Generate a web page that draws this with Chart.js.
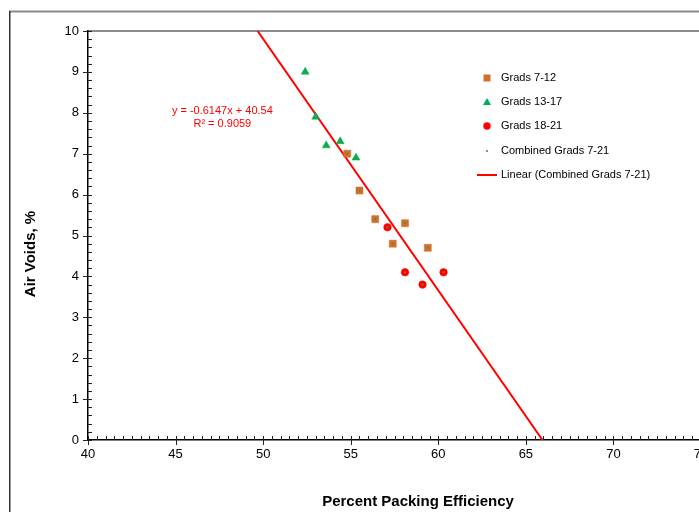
<!DOCTYPE html>
<html>
<head>
<meta charset="utf-8">
<script src="https://cdn.jsdelivr.net/npm/chart.js@4/dist/chart.umd.min.js"></script>
<style>
  html, body { margin: 0; padding: 0; background: #fff; overflow: hidden; }
  #wrap { width: 699px; height: 512px; overflow: hidden; position: relative; }
  canvas { display: block; }
</style>
</head>
<body>
<div id="wrap"><canvas id="c" width="760" height="560"></canvas></div>
<script>
// Packing efficiency (%) vs. air voids (%) by gradation group
const grads7to12X  = [54.8, 55.5, 56.4, 58.1, 57.4, 59.4];
const grads7to12Y  = [7.0, 6.1, 5.4, 5.3, 4.8, 4.7];
const grads13to17X = [52.4, 53.0, 53.6, 54.4, 55.3];
const grads13to17Y = [9.0, 7.9, 7.2, 7.3, 6.9];
const grads18to21X = [57.1, 58.1, 59.1, 60.3];
const grads18to21Y = [5.2, 4.1, 3.8, 4.1];

// Linear fit of the combined data set
const trendSlope = -0.6147;
const trendIntercept = 40.54;
const trendR2 = 0.9059;

const xRange = [40, 75];
const yRange = [0, 10];
const seriesNames = ['Grads 7-12', 'Grads 13-17', 'Grads 18-21', 'Combined Grads 7-21', 'Linear (Combined Grads 7-21)'];
const xTitle = 'Percent Packing Efficiency';
const yTitle = 'Air Voids, %';

const FONT = '"Liberation Sans", Arial, sans-serif';
const COL_SQ = '#d0702c';
const COL_TRI = '#00b050';
const COL_CIR = '#ff0000';
const COL_COMB = '#5e8a34';
const COL_TREND = '#ff0000';

const toPts = (xs, ys) => xs.map((x, i) => ({ x: x, y: ys[i] }));
const combinedPts = [].concat(
  toPts(grads7to12X, grads7to12Y),
  toPts(grads13to17X, grads13to17Y),
  toPts(grads18to21X, grads18to21Y)
);
// trendline spans the full y range of the plot
const trendPts = [yRange[1], yRange[0]].map(y => ({ x: (y - trendIntercept) / trendSlope, y: y }));

const framePlugin = {
  id: 'frame',
  beforeDraw(chart) {
    const ctx = chart.ctx;
    ctx.save();
    ctx.fillStyle = '#fff';
    ctx.fillRect(0, 0, chart.width, chart.height);
    // outer chart border
    ctx.lineWidth = 2;
    ctx.strokeStyle = '#8a8a8a';
    ctx.beginPath(); ctx.moveTo(9, 11.5); ctx.lineTo(chart.width, 11.5); ctx.stroke();
    ctx.lineWidth = 1.5;
    ctx.strokeStyle = '#333';
    ctx.beginPath(); ctx.moveTo(9.75, 11); ctx.lineTo(9.75, chart.height); ctx.stroke();
    // plot area border (top / right)
    const a = chart.chartArea;
    ctx.lineWidth = 2;
    ctx.strokeStyle = '#8c8c8c';
    ctx.beginPath();
    ctx.moveTo(a.left, a.top); ctx.lineTo(a.right, a.top); ctx.lineTo(a.right, a.bottom);
    ctx.stroke();
    ctx.restore();
  },
  afterDraw(chart) {
    const ctx = chart.ctx;
    const xs = chart.scales.x, ys = chart.scales.y;
    const a = chart.chartArea;
    ctx.save();
    // tick marks
    ctx.strokeStyle = '#222';
    ctx.lineWidth = 1;
    ctx.beginPath();
    for (let i = 0; i <= 50; i++) {
      const py = Math.round(ys.getPixelForValue(i / 5)) + 0.5;
      if (i % 5 === 0) { ctx.moveTo(a.left - 5, py); ctx.lineTo(a.left + 4, py); }
      else { ctx.moveTo(a.left, py); ctx.lineTo(a.left + 4, py); }
    }
    for (let i = 0; i <= 70; i++) {
      const px = Math.round(xs.getPixelForValue(40 + i * 0.5)) + 0.5;
      if (i % 10 === 0) { ctx.moveTo(px, a.bottom - 4); ctx.lineTo(px, a.bottom + 5); }
      else { ctx.moveTo(px, a.bottom - 4); ctx.lineTo(px, a.bottom); }
    }
    ctx.stroke();

    // regression equation
    ctx.fillStyle = COL_TREND;
    ctx.font = '11px ' + FONT;
    ctx.textAlign = 'center';
    ctx.textBaseline = 'middle';
    const ex = xs.getPixelForValue(47.67), ey = ys.getPixelForValue(8.04);
    ctx.fillText('y = ' + trendSlope.toFixed(4) + 'x + ' + trendIntercept.toFixed(2), ex, ey);
    ctx.fillText('R\u00b2 = ' + trendR2.toFixed(4), ex, ey + 13);

    // legend
    const lx = 487, lt = 501, rows = [78, 102, 126, 151, 175];
    ctx.textAlign = 'left';
    ctx.fillStyle = '#000';
    seriesNames.forEach((n, i) => ctx.fillText(n, lt, rows[i]));
    ctx.fillStyle = COL_SQ; ctx.fillRect(lx - 3.5, rows[0] - 3.5, 7, 7);
    ctx.fillStyle = COL_TRI;
    ctx.beginPath(); ctx.moveTo(lx, rows[1] - 4); ctx.lineTo(lx + 4, rows[1] + 3); ctx.lineTo(lx - 4, rows[1] + 3); ctx.closePath(); ctx.fill();
    ctx.fillStyle = COL_CIR;
    ctx.beginPath(); ctx.arc(lx, rows[2], 3.7, 0, Math.PI * 2); ctx.fill();
    ctx.fillStyle = COL_COMB;
    ctx.beginPath(); ctx.arc(lx, rows[3], 1.1, 0, Math.PI * 2); ctx.fill();
    ctx.strokeStyle = COL_TREND; ctx.lineWidth = 2;
    ctx.beginPath(); ctx.moveTo(477, rows[4]); ctx.lineTo(497, rows[4]); ctx.stroke();

    // axis titles
    ctx.fillStyle = '#000';
    ctx.font = 'bold 15px ' + FONT;
    ctx.textAlign = 'center';
    ctx.fillText(xTitle, 418, 502);
    ctx.translate(31, 254);
    ctx.rotate(-Math.PI / 2);
    ctx.fillText(yTitle, 0, 0);
    ctx.restore();
  }
};

new Chart(document.getElementById('c'), {
  type: 'scatter',
  data: {
    datasets: [
      { label: seriesNames[3], data: combinedPts, pointStyle: 'circle', pointRadius: 1.1,
        backgroundColor: COL_COMB, borderWidth: 0 },
      { label: seriesNames[2], data: toPts(grads18to21X, grads18to21Y), pointStyle: 'circle', pointRadius: 3.8,
        backgroundColor: COL_CIR, borderColor: COL_CIR, borderWidth: 0.5 },
      { label: seriesNames[1], data: toPts(grads13to17X, grads13to17Y), pointStyle: 'triangle', pointRadius: 4.6,
        backgroundColor: COL_TRI, borderColor: COL_TRI, borderWidth: 0.5 },
      { label: seriesNames[0], data: toPts(grads7to12X, grads7to12Y), pointStyle: 'rect', pointRadius: 5,
        backgroundColor: COL_SQ, borderColor: COL_SQ, borderWidth: 0.5 },
      { label: seriesNames[4], data: trendPts, showLine: true, pointRadius: 0,
        borderColor: COL_TREND, borderWidth: 2, backgroundColor: COL_TREND }
    ]
  },
  options: {
    responsive: false,
    animation: false,
    devicePixelRatio: 1,
    events: [],
    layout: { padding: { left: 0, top: 31, right: 59, bottom: 80 } },
    plugins: { legend: { display: false }, tooltip: { enabled: false } },
    scales: {
      x: {
        type: 'linear', min: xRange[0], max: xRange[1],
        grid: { display: false, drawTicks: false },
        border: { display: true, color: '#000', width: 1.5 },
        ticks: { stepSize: 5, padding: 7, color: '#000', font: { family: FONT, size: 13 } },
        afterFit(s) { s.height = 40; }
      },
      y: {
        type: 'linear', min: yRange[0], max: yRange[1],
        grid: { display: false, drawTicks: false },
        border: { display: true, color: '#000', width: 1.5 },
        ticks: { stepSize: 1, padding: 9, color: '#000', font: { family: FONT, size: 13 } },
        afterFit(s) { s.width = 88; }
      }
    }
  },
  plugins: [framePlugin]
});
</script>
</body>
</html>
